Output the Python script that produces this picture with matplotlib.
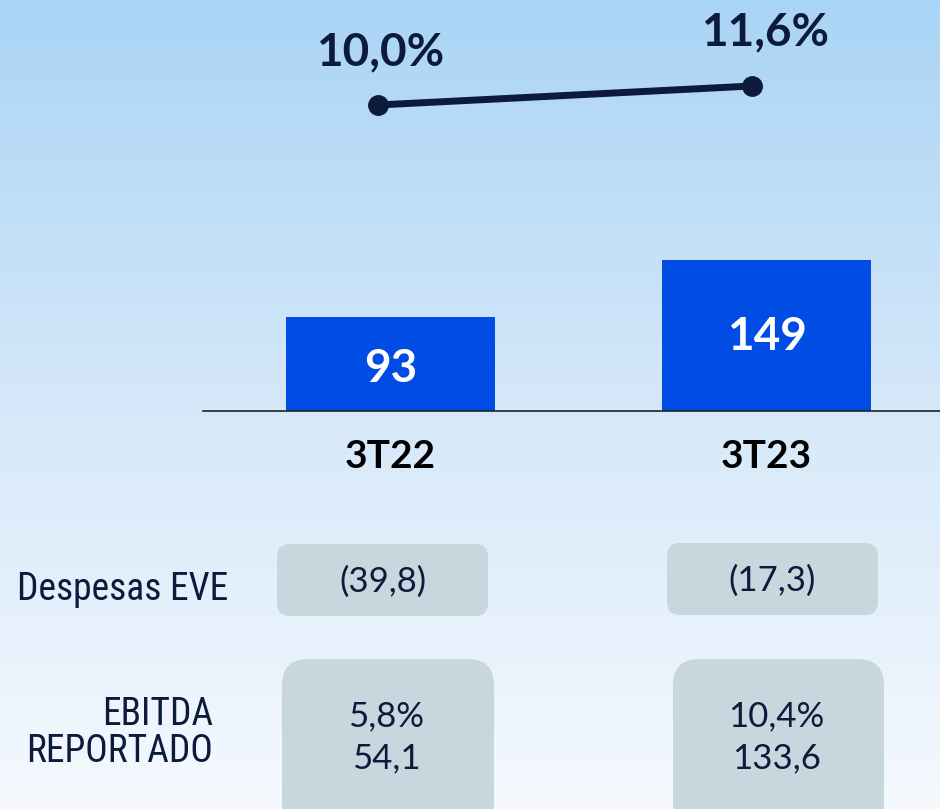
import numpy as np
import matplotlib
matplotlib.use("Agg")
import matplotlib.pyplot as plt
from matplotlib.colors import LinearSegmentedColormap
from matplotlib.patches import FancyBboxPatch
from matplotlib import font_manager

# data
periods = ["3T22", "3T23"]
ebitda = [93, 149]
margin = [10.0, 11.6]
margin_labels = ["10,0%", "11,6%"]
eve_labels = ["(39,8)", "(17,3)"]
reported_margin = ["5,8%", "10,4%"]
reported_value = ["54,1", "133,6"]

NAVY = "#0C1A3C"
BLUE = "#024CE6"
BOX = "#C8D6DD"
W, H = 940, 809

# pick a narrow face if there is one
names = {f.name for f in font_manager.fontManager.ttflist}
narrow_fam = None
for cand in ["Liberation Sans Narrow", "DejaVu Sans Condensed", "Roboto Condensed"]:
    if cand in names:
        narrow_fam = cand
        break


def fx(px):
    return px / W


def fy(py):
    # pixel from top -> figure fraction from bottom
    return 1 - py / H


fig = plt.figure(figsize=(9.4, 8.09), dpi=100)

# background gradient
bg = fig.add_axes([0, 0, 1, 1])
bg.set_axis_off()
cmap = LinearSegmentedColormap.from_list(
    "bg", [(0, "#AAD4F5"), (0.5, "#D5E8F9"), (1, "#F5F9FE")])
grad = np.linspace(0, 1, 256).reshape(-1, 1)
bg.imshow(grad, aspect="auto", cmap=cmap, extent=[0, 1, 0, 1], origin="upper")
bg.set_xlim(0, 1)
bg.set_ylim(0, 1)

# bars
ax = fig.add_axes([fx(203), fy(411), fx(940 - 203), fy(200) - fy(411)])
ax.patch.set_alpha(0)
x = np.arange(len(periods))
ax.bar(x, ebitda, width=0.556, color=BLUE)
ax.set_xlim(-0.4987, 1.4614)
ax.set_ylim(0, 208)
for s in ["top", "right", "left"]:
    ax.spines[s].set_visible(False)
ax.spines["bottom"].set_color("#222222")
ax.spines["bottom"].set_linewidth(1.2)
ax.set_yticks([])
ax.set_xticks(x)
ax.set_xticklabels(periods, fontsize=28, fontweight="bold", family="Lato",
                   color="black")
ax.tick_params(axis="x", length=0, pad=20)
ax.text(x[0], ebitda[0] * 0.44, str(ebitda[0]), ha="center", va="center",
        fontsize=33, fontweight="bold", family="Lato", color="white")
ax.text(x[1], ebitda[1] * 0.49, str(ebitda[1]), ha="center", va="center",
        fontsize=33, fontweight="bold", family="Lato", color="white")

# margin line
lx = fig.add_axes([0, fy(200), 1, fy(0) - fy(200)])
lx.set_axis_off()
lx.plot([0, 1], margin, color=NAVY, lw=5, marker="o", markersize=14,
        solid_capstyle="round")
lx.set_xlim(-1.0107, 1.5027)
lx.set_ylim(2.0, 18.84)
lx.text(0.005, margin[0] + 4.4, margin_labels[0], ha="center", va="center",
        fontsize=33, fontweight="bold", family="Lato", color=NAVY)
lx.text(1.035, margin[1] + 4.5, margin_labels[1], ha="center", va="center",
        fontsize=33, fontweight="bold", family="Lato", color=NAVY)

# row labels
if narrow_fam:
    row_kw = dict(family=[narrow_fam, "DejaVu Sans"], fontsize=27)
else:
    row_kw = dict(family=["Liberation Sans", "DejaVu Sans"], fontsize=22)
bg.text(fx(228), fy(589), "Despesas EVE", ha="right", va="center",
        color=NAVY, **row_kw)
bg.text(fx(213), fy(733), "EBITDA\nREPORTADO", ha="right", va="center",
        color=NAVY, linespacing=1.0, **row_kw)

eve_boxes = [(277, 544, 211, 72), (667, 543, 211, 72)]
rep_boxes = [(282, 659, 212, 170), (673, 659, 211, 170)]
for (bx, by, bw, bh), lab in zip(eve_boxes, eve_labels):
    p = FancyBboxPatch((fx(bx), fy(by + bh)), fx(bw), fy(by) - fy(by + bh),
                       boxstyle="round,pad=0,rounding_size=0.014",
                       mutation_aspect=W / H, transform=bg.transAxes,
                       facecolor=BOX, edgecolor="none")
    bg.add_patch(p)
    bg.text(fx(bx + bw / 2), fy(by + 38), lab, ha="center", va="center",
            fontsize=25, family="Lato", color=NAVY)
for (bx, by, bw, bh), m, v in zip(rep_boxes, reported_margin, reported_value):
    p = FancyBboxPatch((fx(bx), fy(by + bh)), fx(bw), fy(by) - fy(by + bh),
                       boxstyle="round,pad=0,rounding_size=0.028",
                       mutation_aspect=W / H, transform=bg.transAxes,
                       facecolor=BOX, edgecolor="none")
    bg.add_patch(p)
    bg.text(fx(bx + bw / 2 - 2), fy(716), m, ha="center", va="center",
            fontsize=25, family="Lato", color=NAVY)
    bg.text(fx(bx + bw / 2 - 2), fy(758), v, ha="center", va="center",
            fontsize=25, family="Lato", color=NAVY)

fig.savefig("out.png", dpi=100)
